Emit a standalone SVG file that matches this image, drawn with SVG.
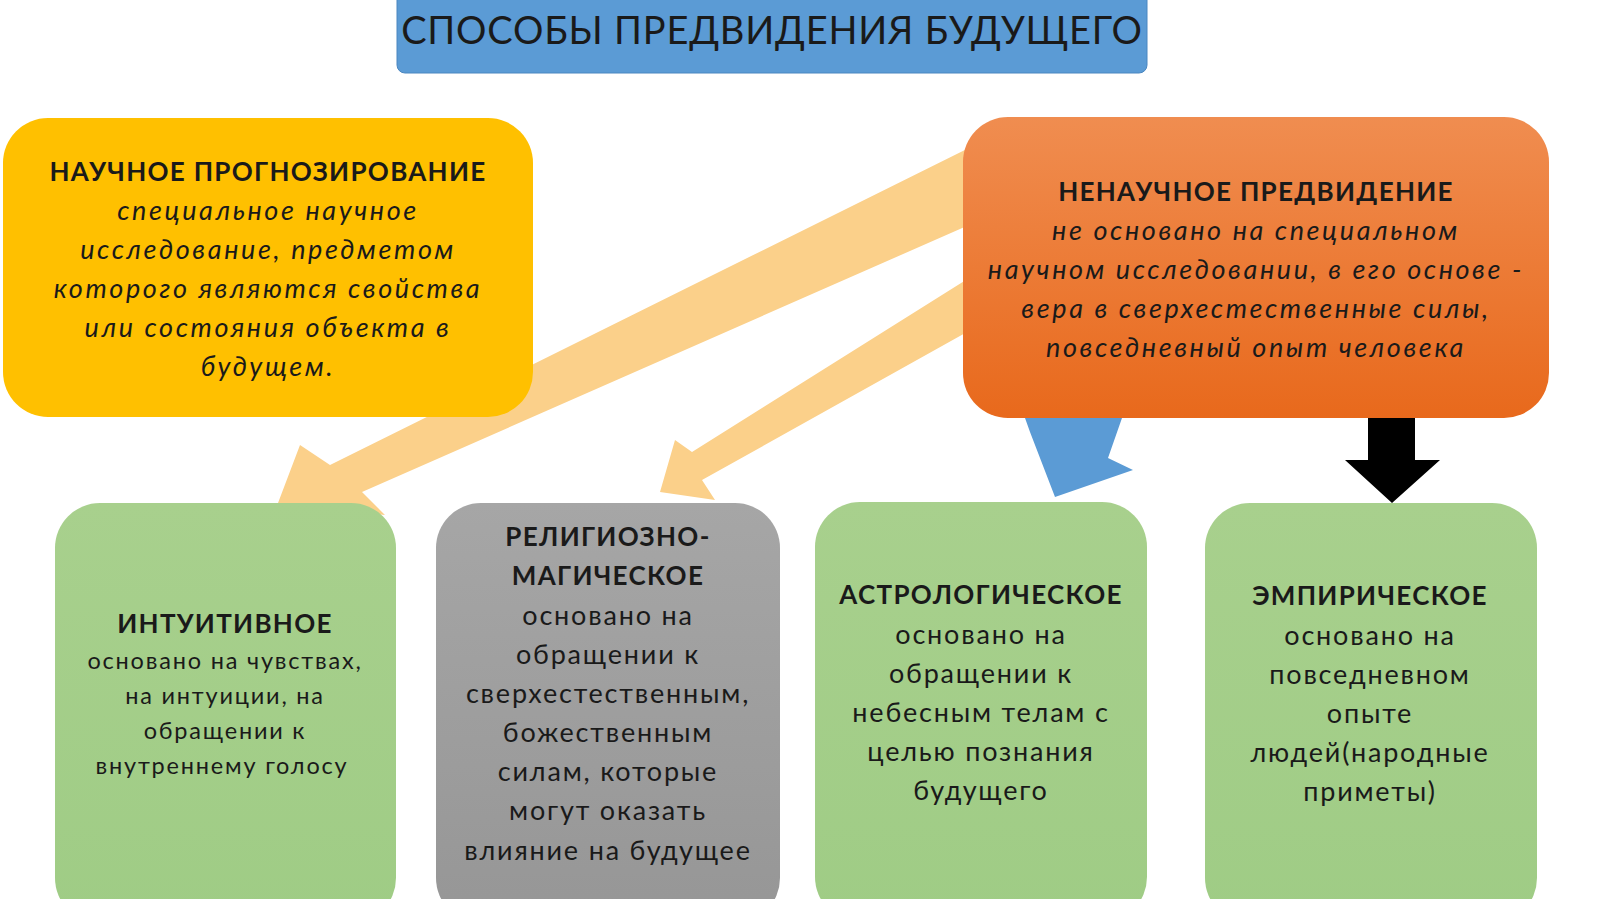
<svg xmlns="http://www.w3.org/2000/svg" width="1600" height="899" viewBox="0 0 1600 899">
<defs>
<linearGradient id="og" x1="0" y1="0" x2="0" y2="1"><stop offset="0" stop-color="#f08d50"/><stop offset="1" stop-color="#e8691c"/></linearGradient>
<linearGradient id="gg" x1="0" y1="0" x2="0" y2="1"><stop offset="0" stop-color="#a8d08d"/><stop offset="1" stop-color="#9fcc85"/></linearGradient>
<linearGradient id="gr" x1="0" y1="0" x2="0" y2="1"><stop offset="0" stop-color="#a6a6a6"/><stop offset="1" stop-color="#969696"/></linearGradient>
</defs>
<style>
text{font-family:Lato,"Open Sans",sans-serif;text-anchor:middle;fill:#1a1a1a}
.h{font-weight:bold;font-size:26px;letter-spacing:1.3px}
.i{font-style:italic;font-size:27px;letter-spacing:2.6px}
.b{font-size:27px;letter-spacing:1.8px}
.s{font-size:23.5px;letter-spacing:1.8px}
</style>
<rect width="1600" height="899" fill="#fff"/>
<g id="connectors">
<polygon points="985,140 330,465 300,445 278,503 385,515 362,492 985,218" fill="#fbd08a"/>
<polygon points="985,268 692,452 675,440 660,492 715,500 702,480 985,322" fill="#fbd08a"/>
<polygon points="1025,418 1122,418 1108,458 1133,470 1055,497 1030,432" fill="#5b9bd5"/>
<polygon points="1368,418 1415,418 1415,460 1440,460 1392,503 1345,460 1368,460" fill="#000"/>
</g>
<g id="title"><rect x="397" y="-10" width="750" height="83" rx="8" fill="#5b9bd5" stroke="#4a86c0"/><text x="772" y="44" style="font-size:38px;letter-spacing:0.8px">СПОСОБЫ ПРЕДВИДЕНИЯ БУДУЩЕГО</text></g>
<g id="scientific"><rect x="3" y="118" width="530" height="299" rx="45" fill="#ffc000"/>
<text x="268" y="181" class="h">НАУЧНОЕ ПРОГНОЗИРОВАНИЕ</text>
<text x="268" y="220" class="i">специальное научное</text>
<text x="268" y="259" class="i">исследование, предметом</text>
<text x="268" y="298" class="i">которого являются свойства</text>
<text x="268" y="337" class="i">или состояния объекта в</text>
<text x="268" y="376" class="i">будущем.</text></g>
<g id="nonscientific"><rect x="963" y="117" width="586" height="301" rx="45" fill="url(#og)"/>
<text x="1256" y="201" class="h">НЕНАУЧНОЕ ПРЕДВИДЕНИЕ</text>
<text x="1256" y="240" class="i">не основано на специальном</text>
<text x="1256" y="279" class="i">научном исследовании, в его основе -</text>
<text x="1256" y="318" class="i">вера в сверхестественные силы,</text>
<text x="1256" y="357" class="i">повседневный опыт человека</text></g>
<g id="intuitive"><rect x="55" y="503" width="341" height="420" rx="45" fill="url(#gg)"/>
<text x="225" y="633" class="h">ИНТУИТИВНОЕ</text>
<text x="225" y="669" class="s">основано на чувствах,</text>
<text x="225" y="704" class="s">на интуиции, на</text>
<text x="225" y="739" class="s">обращении к</text>
<text x="222" y="774" class="s">внутреннему голосу</text></g>
<g id="religious"><rect x="436" y="503" width="344" height="420" rx="45" fill="url(#gr)"/>
<text x="608" y="546" class="h">РЕЛИГИОЗНО-</text>
<text x="608" y="585" class="h">МАГИЧЕСКОЕ</text>
<text x="608" y="625" class="b">основано на</text>
<text x="608" y="664" class="b">обращении к</text>
<text x="608" y="703" class="b">сверхестественным,</text>
<text x="608" y="742" class="b">божественным</text>
<text x="608" y="781" class="b">силам, которые</text>
<text x="608" y="820" class="b">могут оказать</text>
<text x="608" y="860" class="b">влияние на будущее</text></g>
<g id="astrological"><rect x="815" y="502" width="332" height="420" rx="45" fill="url(#gg)"/>
<text x="981" y="604" class="h">АСТРОЛОГИЧЕСКОЕ</text>
<text x="981" y="644" class="b">основано на</text>
<text x="981" y="683" class="b">обращении к</text>
<text x="981" y="722" class="b">небесным телам с</text>
<text x="981" y="761" class="b">целью познания</text>
<text x="981" y="800" class="b">будущего</text></g>
<g id="empirical"><rect x="1205" y="503" width="332" height="420" rx="45" fill="url(#gg)"/>
<text x="1370" y="605" class="h">ЭМПИРИЧЕСКОЕ</text>
<text x="1370" y="645" class="b">основано на</text>
<text x="1370" y="684" class="b">повседневном</text>
<text x="1370" y="723" class="b">опыте</text>
<text x="1370" y="762" class="b">людей(народные</text>
<text x="1370" y="801" class="b">приметы)</text></g>
</svg>
